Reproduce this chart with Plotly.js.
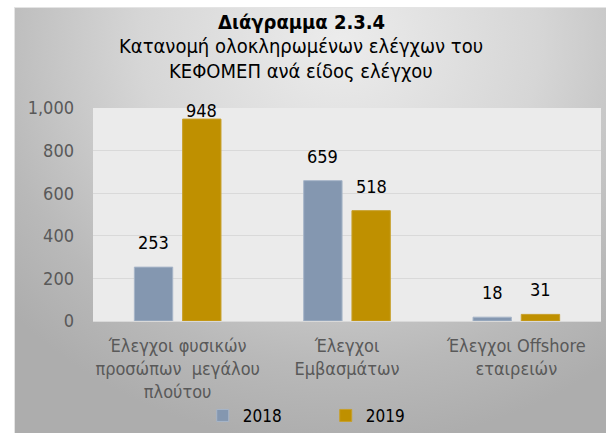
<!DOCTYPE html>
<html>
<head>
<meta charset="utf-8">
<script src="https://cdn.plot.ly/plotly-3.0.1.min.js"></script>
<style>
  html, body { margin: 0; padding: 0; background: #ffffff; width: 606px; height: 433px; overflow: hidden; }
  #chart {
    position: absolute; left: 14px; top: 7px; width: 592px; height: 426px;
    background: radial-gradient(ellipse 75% 95% at 55% 8%, #ececec 0%, #d6d6d6 45%, #b9b9b9 80%, #adadad 100%);
    border-left: 1px solid #e4e4e4; border-top: 1px solid #e4e4e4;
    box-sizing: border-box;
  }
</style>
</head>
<body>
<div id="chart"></div>
<script>
const categories = ["Έλεγχοι φυσικών<br>προσώπων  μεγάλου<br>πλούτου", "Έλεγχοι<br>Εμβασμάτων", "Έλεγχοι Offshore<br>εταιρειών"];
const values2018 = [253, 659, 18];
const values2019 = [948, 518, 31];
const seriesNames = ["2018", "2019"];
const seriesColors = ["#8497B0", "#BF9000"];
const yTicks = [0, 200, 400, 600, 800, 1000];
const yTickLabels = ["0", "200", "400", "600", "800", "1,000"];
const titleLines = ["<b>Διάγραμμα 2.3.4</b>", "Κατανομή ολοκληρωμένων ελέγχων του", "ΚΕΦΟΜΕΠ ανά είδος ελέγχου"];

const FONT = "DejaVu Sans Condensed, DejaVu Sans, Verdana, sans-serif";
const W = 592, H = 426;
const M = { l: 78, r: 6, t: 100, b: 113, autoexpand: false };
const plotH = H - M.t - M.b;
const plotW = W - M.l - M.r;
const YMAX = 1000;
const BARGAP = 0.43;

const traces = [values2018, values2019].map((vals, i) => ({
  type: "bar", name: seriesNames[i], x: categories, y: vals,
  marker: { color: seriesColors[i], line: { color: i === 0 ? "#a7b5c8" : "#c79f2a", width: 1 } },
  hoverinfo: "skip"
}));

// data labels (positioned via library scale + pixel offset)
const slotPx = (plotW / categories.length) * (1 - BARGAP) / 2;
const annotations = [];
[values2018, values2019].forEach((vals, i) => {
  vals.forEach((v, j) => {
    const topPx = plotH * (1 - v / YMAX);
    const baseline = Math.max(topPx - 17, 10);
    const gap = topPx - baseline;
    annotations.push({
      x: categories[j], y: v, xref: "x", yref: "y",
      text: v.toLocaleString("en-US"), showarrow: false,
      xanchor: "center", yanchor: "bottom",
      xshift: (i === 0 ? -1 : 1) * slotPx / 2, yshift: gap - 5,
      font: { family: FONT, size: 18, color: "#000000" }
    });
  });
});
// title lines, centred on the chart box
const titleCenters = [21, 45, 70]; // page px
const titleX = (300 - 14 - M.l) / plotW;
titleLines.forEach((t, k) => {
  annotations.push({
    x: titleX, y: (M.t + 7 + plotH - titleCenters[k]) / plotH, xref: "paper", yref: "paper",
    text: t, showarrow: false, xanchor: "center", yanchor: "middle",
    font: { family: FONT, size: 20, color: "#000000" }
  });
});

const layout = {
  width: W, height: H,
  paper_bgcolor: "rgba(0,0,0,0)",
  plot_bgcolor: "#ebebeb",
  margin: M,
  font: { family: FONT, color: "#595959" },
  bargap: BARGAP,
  bargroupgap: 0.205,
  xaxis: {
    tickfont: { family: FONT, size: 18, color: "#595959" },
    showline: true, linecolor: "#d9d9d9", linewidth: 1,
    ticks: "", fixedrange: true, ticklabelstandoff: 8
  },
  yaxis: {
    range: [0, YMAX],
    tickvals: yTicks, ticktext: yTickLabels,
    tickfont: { family: FONT, size: 18, color: "#595959" },
    gridcolor: "#d9d9d9", gridwidth: 1,
    zeroline: false, showline: false, ticks: "",
    fixedrange: true, ticklabelstandoff: 18
  },
  showlegend: true,
  legend: {
    orientation: "h", x: 0.216, xanchor: "left", y: -0.361, yanchor: "top",
    font: { family: FONT, size: 17, color: "#000000" },
    bgcolor: "rgba(0,0,0,0)", entrywidth: 78, entrywidthmode: "pixels",
    itemclick: false, itemdoubleclick: false
  },
  annotations: annotations
};

Plotly.newPlot("chart", traces, layout, { displayModeBar: false, staticPlot: true });
</script>
</body>
</html>
